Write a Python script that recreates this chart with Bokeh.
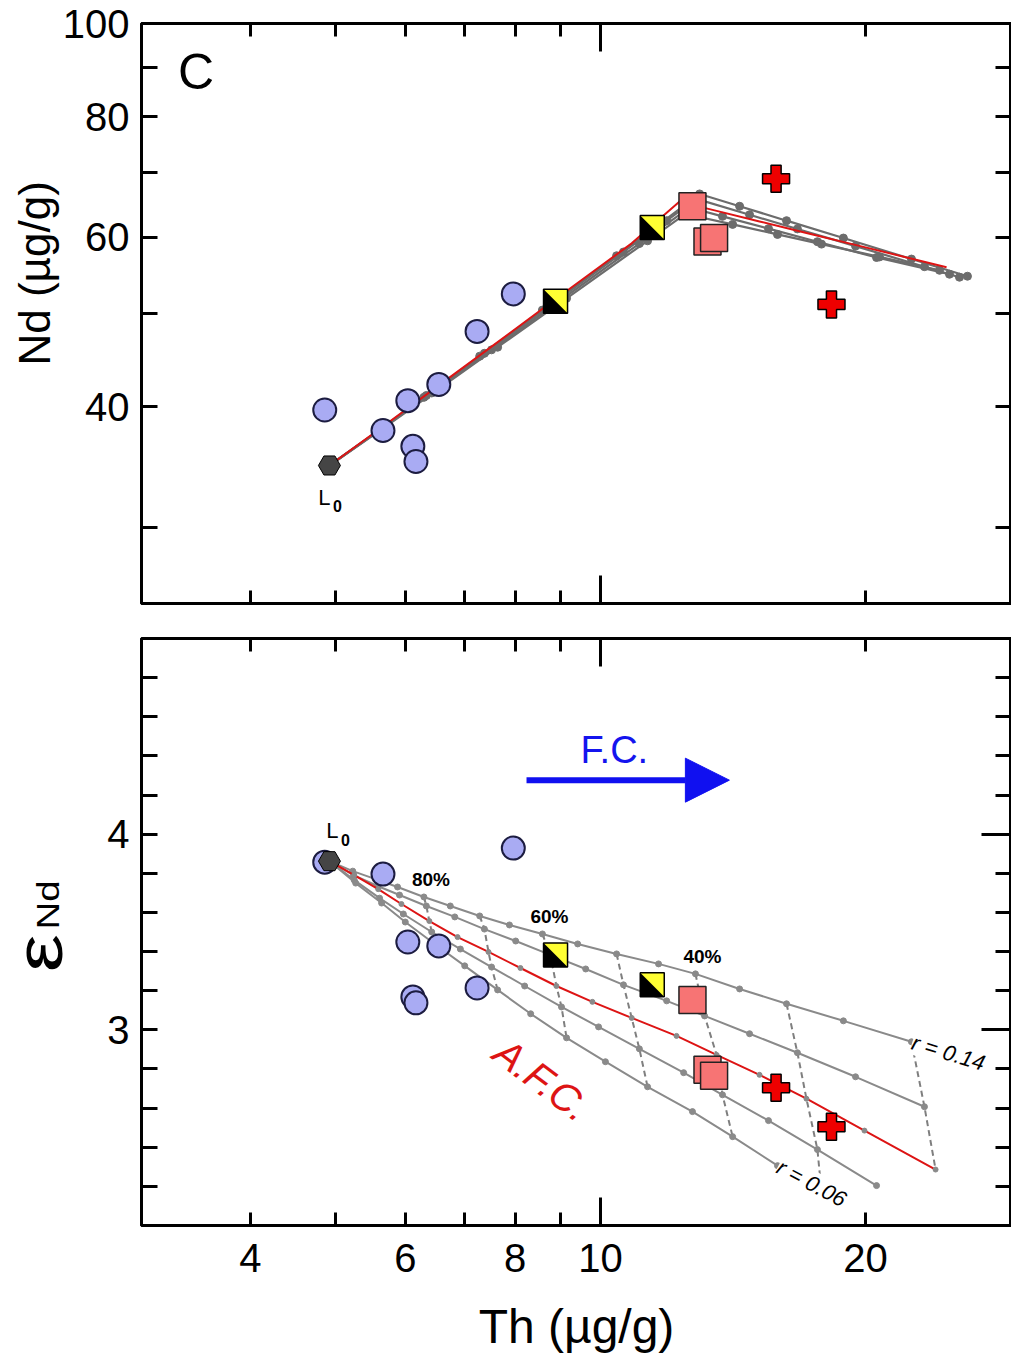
import math
from bokeh.plotting import figure
from bokeh.models import (LogAxis, LinearAxis, FixedTicker, Label, Arrow, NormalHead,
                          Range1d, CustomJSTickFormatter, NumeralTickFormatter, Title, Div)
from bokeh.layouts import column, row
from bokeh.embed import file_html
from bokeh.resources import INLINE

FONT = "Liberation Sans"

# ---------------- data ----------------
# samples (shared Th for both panels)
blue_th = [4.86, 5.66, 6.04, 6.12, 6.17, 6.55, 7.24, 7.96]
blue_nd = [39.7, 37.8, 40.6, 36.4, 35.1, 42.2, 47.9, 52.4]
blue_eps = [3.857, 3.796, 3.449, 3.168, 3.138, 3.429, 3.214, 3.929]

yellow_th = [8.89, 11.45]
yellow_nd = [51.5, 61.4]
yellow_eps = [3.383, 3.230]

pink_th = [12.72, 13.23, 13.46]
pink_nd = [64.6, 59.4, 59.9]
pink_eps = [3.153, 2.796, 2.765]

cross_th = [15.83, 18.30]
cross_nd = [69.0, 51.1]
cross_eps = [2.704, 2.505]

L0_th = [4.92]
L0_nd = [34.77]
L0_eps = [3.862]

# top panel model curves (Th, Nd)
tg1_th = [4.92, 5.55, 6.30, 7.29, 8.59, 10.43, 11.64, 12.96, 14.39, 16.27, 18.88, 22.56, 26.12]
tg1_nd = [34.77, 37.62, 40.92, 45.15, 50.41, 57.40, 61.79, 66.54, 64.61, 62.42, 59.88, 56.95, 54.66]
tg2_th = [4.92, 5.58, 6.34, 7.38, 8.77, 10.62, 11.89, 12.85, 14.77, 16.74, 19.49, 23.34, 25.58]
tg2_nd = [34.77, 37.73, 41.10, 45.46, 50.99, 57.92, 62.42, 65.76, 63.31, 61.20, 58.74, 55.92, 54.53]
tg3_th = [4.92, 5.61, 6.43, 7.52, 9.03, 11.07, 12.62, 13.76, 15.52, 17.64, 20.59, 24.92]
tg3_nd = [34.77, 37.82, 41.35, 45.84, 51.70, 59.10, 64.41, 63.07, 61.24, 59.36, 57.16, 54.92]
tg4_th = [4.92, 5.64, 6.48, 7.64, 9.15, 11.31, 12.49, 14.13, 15.89, 17.83, 20.75, 24.28]
tg4_nd = [34.77, 37.91, 41.47, 46.13, 51.85, 59.49, 63.43, 61.87, 60.40, 59.02, 57.24, 55.44]
tr_th = [4.92, 5.59, 6.39, 7.46, 8.91, 10.85, 12.29, 13.55, 15.16, 17.14, 19.95, 24.73]
tr_nd = [34.77, 37.85, 41.41, 45.95, 51.82, 59.13, 65.30, 63.90, 62.30, 60.60, 58.60, 55.84]

# bottom panel model curves (Th, eNd), F = 100 %, 95 %, 90 % ... in 5 % steps
a_th = [4.92, 5.23, 5.55, 5.88, 6.30, 6.75, 7.29, 7.88, 8.59, 9.42, 10.43, 11.64, 12.82, 14.39, 16.27, 18.88, 22.56]
a_eps = [3.862, 3.811, 3.770, 3.730, 3.679, 3.633, 3.582, 3.536, 3.490, 3.439, 3.388, 3.337, 3.286, 3.209, 3.133, 3.046, 2.939]
b_th = [4.92, 5.24, 5.58, 5.91, 6.34, 6.83, 7.38, 8.01, 8.77, 9.62, 10.62, 11.89, 13.13, 14.77, 16.74, 19.49, 23.34]
b_eps = [3.862, 3.791, 3.735, 3.689, 3.633, 3.577, 3.515, 3.454, 3.383, 3.311, 3.230, 3.148, 3.071, 2.980, 2.883, 2.760, 2.607]
r_th = [4.92, 5.25, 5.59, 5.94, 6.39, 6.88, 7.46, 8.11, 8.91, 9.79, 10.85, 12.20, 13.55, 15.16, 17.14, 19.95, 24.03]
r_eps = [3.862, 3.791, 3.719, 3.643, 3.556, 3.474, 3.398, 3.316, 3.224, 3.143, 3.061, 2.969, 2.872, 2.770, 2.648, 2.485, 2.286]
c_th = [4.92, 5.25, 5.61, 5.97, 6.43, 6.93, 7.52, 8.20, 9.03, 9.95, 11.07, 12.43, 13.76, 15.52, 17.64, 20.59]
c_eps = [3.862, 3.765, 3.673, 3.592, 3.500, 3.413, 3.321, 3.224, 3.117, 3.015, 2.903, 2.781, 2.668, 2.536, 2.388, 2.204]
d_th = [4.92, 5.27, 5.64, 6.00, 6.48, 7.01, 7.64, 8.33, 9.15, 10.13, 11.31, 12.72, 14.13, 15.89, 17.83]
d_eps = [3.862, 3.750, 3.648, 3.551, 3.439, 3.327, 3.204, 3.082, 2.959, 2.837, 2.709, 2.582, 2.454, 2.306, 2.168]

tie_idx = [4, 6, 8, 10, 12, 14, 16]          # 80 %, 70 %, ... 20 %
pct_idx = [4, 8, 12]
pct_labels = ["80%", "60%", "40%"]

x_ticks_major = [4, 6, 8, 10, 20]
x_ticks_minor = [5, 7, 9]
nd_ticks_major = [40, 60, 80, 100]
nd_ticks_minor = [30, 50, 70, 90]
eps_ticks_major = [3, 4]
eps_ticks_minor = [2.2, 2.4, 2.6, 2.8, 3.2, 3.4, 3.6, 3.8, 4.2, 4.4, 4.6, 4.8]

# ---------------- layout constants ----------------
X_START, X_END = 3.009, 29.31
FRAME_W = 870
TOP_H = 580
BOT_H = 587
ND_RANGE = (25, 100)
EPS_RANGE = (2, 5)
LEFT = 141
EPS_DIV_W = 80

GRAY_T = "#6c6c6c"
GRAY_B = "#8a8a8a"
RED = "#dd1414"
BLUE_FILL = "#a9abf3"
BLUE_LINE = "#1c1c40"
PINK = "#f77474"


def make_fig(y_type, y_range, frame_h, b_left, b_top, b_bottom):
    p = figure(x_axis_type="log", y_axis_type=y_type,
               x_axis_location=None, y_axis_location=None,
               x_range=Range1d(X_START, X_END), y_range=Range1d(*y_range),
               frame_width=FRAME_W, frame_height=frame_h,
               output_backend="svg", toolbar_location=None,
               min_border_left=b_left, min_border_right=0,
               min_border_top=b_top, min_border_bottom=b_bottom)
    p.xgrid.visible = False
    p.ygrid.visible = False
    p.outline_line_color = "black"
    p.outline_line_width = 3
    p.outline_line_alpha = 1.0
    return p


def style_ticks(ax, major_len, minor_len):
    ax.major_tick_in = major_len
    ax.major_tick_out = 0
    ax.minor_tick_in = minor_len
    ax.minor_tick_out = 0
    ax.major_tick_line_width = 3
    ax.minor_tick_line_width = 3
    ax.major_tick_line_color = "black"
    ax.minor_tick_line_color = "black"
    ax.axis_line_width = 3
    ax.axis_line_color = "black"
    ax.major_label_text_color = "black"
    ax.axis_label_text_color = "black"


def tick_axis(kind, major, minor, major_len, minor_len):
    cls = LogAxis if kind == "log" else LinearAxis
    ax = cls(ticker=FixedTicker(ticks=major, minor_ticks=minor))
    style_ticks(ax, major_len, minor_len)
    ax.formatter = CustomJSTickFormatter(code="return ''")
    ax.major_label_text_font_size = "0px"
    ax.major_label_standoff = 0
    return ax


def x_tick_only():
    return tick_axis("log", [10], x_ticks_major[:3] + x_ticks_minor + [20], 28, 13)


def text_label(**kw):
    kw.setdefault("text_font", FONT)
    kw.setdefault("text_color", "black")
    return Label(**kw)


# ================= top panel =================
p1 = make_fig("log", ND_RANGE, TOP_H, LEFT, 23, 17)

ax_l = LogAxis(ticker=FixedTicker(ticks=nd_ticks_major, minor_ticks=nd_ticks_minor))
style_ticks(ax_l, 16, 16)
ax_l.formatter = NumeralTickFormatter(format="0")
ax_l.major_label_text_font = FONT
ax_l.major_label_text_font_size = "40px"
ax_l.major_label_standoff = 12
p1.add_layout(ax_l, "left")
p1.add_layout(Title(text="Nd (µg/g)", align="left", offset=238, standoff=2,
                    text_font=FONT, text_font_size="44px", text_font_style="normal",
                    text_color="black"), "left")
p1.add_layout(tick_axis("log", nd_ticks_minor + nd_ticks_major[:3], [], 16, 16), "right")
p1.add_layout(x_tick_only(), "above")
p1.add_layout(x_tick_only(), "below")

for th, nd in [(tg1_th, tg1_nd), (tg2_th, tg2_nd), (tg3_th, tg3_nd), (tg4_th, tg4_nd)]:
    p1.line(th, nd, line_color=GRAY_T, line_width=2.2)
    p1.scatter(th[1:], nd[1:], size=8, color=GRAY_T)
p1.line(tr_th, tr_nd, line_color=RED, line_width=2)

# ================= bottom panel =================
p2 = make_fig("linear", EPS_RANGE, BOT_H, LEFT - EPS_DIV_W, 18, 10)

ax_l2 = LinearAxis(ticker=FixedTicker(ticks=eps_ticks_major, minor_ticks=eps_ticks_minor))
style_ticks(ax_l2, 16, 16)
ax_l2.formatter = NumeralTickFormatter(format="0")
ax_l2.major_label_text_font = FONT
ax_l2.major_label_text_font_size = "40px"
ax_l2.major_label_standoff = 12
p2.add_layout(ax_l2, "left")
p2.add_layout(tick_axis("linear", eps_ticks_major, eps_ticks_minor, 30, 16), "right")
p2.add_layout(x_tick_only(), "above")
p2.add_layout(x_tick_only(), "below")

ax_b = LogAxis(ticker=FixedTicker(ticks=x_ticks_major, minor_ticks=[]))
ax_b.formatter = NumeralTickFormatter(format="0")
ax_b.major_tick_line_color = None
ax_b.minor_tick_line_color = None
ax_b.axis_line_color = None
ax_b.major_label_text_color = "black"
ax_b.major_label_text_font = FONT
ax_b.major_label_text_font_size = "40px"
ax_b.major_label_standoff = 12
ax_b.axis_label = "Th (µg/g)"
ax_b.axis_label_text_color = "black"
ax_b.axis_label_text_font = FONT
ax_b.axis_label_text_font_size = "48px"
ax_b.axis_label_text_font_style = "normal"
ax_b.axis_label_standoff = 25
p2.add_layout(ax_b, "below")

curves_bot = [(a_th, a_eps), (b_th, b_eps), (r_th, r_eps), (c_th, c_eps), (d_th, d_eps)]
tie_xs = [[th[i] for th, e in curves_bot if len(th) > i] for i in tie_idx]
tie_ys = [[e[i] for th, e in curves_bot if len(th) > i] for i in tie_idx]
p2.multi_line(tie_xs, tie_ys, line_color="#7f7f7f", line_width=2, line_dash="6 4")

for th, e in [(a_th, a_eps), (b_th, b_eps), (c_th, c_eps), (d_th, d_eps)]:
    p2.line(th, e, line_color=GRAY_B, line_width=2)
    p2.scatter(th[1:], e[1:], size=6, color=GRAY_B)
p2.line(r_th, r_eps, line_color=RED, line_width=2)
p2.scatter(r_th[1:], r_eps[1:], size=5, color=GRAY_B)

# ---------- sample symbols (both panels) ----------
px_dec_x = FRAME_W / math.log10(X_END / X_START)
px_dec_nd = TOP_H / math.log10(ND_RANGE[1] / ND_RANGE[0])
px_eps = BOT_H / (EPS_RANGE[1] - EPS_RANGE[0])
HALF = 12
kx = 10 ** (HALF / px_dec_x)
kn = 10 ** (HALF / px_dec_nd)
de = HALF / px_eps

for p, blue_y, yel_y, pink_y, cross_y, l0_y in [
        (p1, blue_nd, yellow_nd, pink_nd, cross_nd, L0_nd),
        (p2, blue_eps, yellow_eps, pink_eps, cross_eps, L0_eps)]:
    p.scatter(blue_th, blue_y, marker="circle", size=23, fill_color=BLUE_FILL,
              line_color=BLUE_LINE, line_width=2)
    p.scatter(L0_th, l0_y, marker="hex", size=22, fill_color="#454545",
              line_color="black", line_width=1)
    p.scatter(yellow_th, yel_y, marker="square", size=24, fill_color="#ffff33",
              line_color="black", line_width=1.5)
    tri_x = [[x / kx, x / kx, x * kx] for x in yellow_th]
    if p is p1:
        tri_y = [[y * kn, y / kn, y / kn] for y in yel_y]
    else:
        tri_y = [[y + de, y - de, y - de] for y in yel_y]
    p.patches(tri_x, tri_y, fill_color="black", line_color=None)
    p.scatter(pink_th, pink_y, marker="square", size=27, fill_color=PINK,
              line_color="#222222", line_width=1.5)
    p.scatter(cross_th, cross_y, marker="plus", size=27, fill_color="#ee0000",
              line_color="black", line_width=1.5)

# ---------- annotations ----------
p1.add_layout(text_label(x=3.47, y=89.0, text="C", text_font_size="50px",
                         text_align="center", text_baseline="middle"))
p1.add_layout(text_label(x=L0_th[0], y=L0_nd[0], text="L", x_offset=-5, y_offset=-32,
                         text_font_size="22px", text_align="center", text_baseline="middle"))
p1.add_layout(text_label(x=L0_th[0], y=L0_nd[0], text="0", x_offset=8, y_offset=-41,
                         text_font_size="16px", text_font_style="bold",
                         text_align="center", text_baseline="middle"))

p2.add_layout(text_label(x=L0_th[0], y=L0_eps[0], text="L", x_offset=3, y_offset=31,
                         text_font_size="22px", text_align="center", text_baseline="middle"))
p2.add_layout(text_label(x=L0_th[0], y=L0_eps[0], text="0", x_offset=16, y_offset=21,
                         text_font_size="16px", text_font_style="bold",
                         text_align="center", text_baseline="middle"))

for i, t in zip(pct_idx, pct_labels):
    p2.add_layout(text_label(x=a_th[i], y=a_eps[i], text=t, x_offset=7, y_offset=7,
                             text_font_size="19px", text_font_style="bold",
                             text_align="center", text_baseline="bottom"))

p2.add_layout(text_label(x=a_th[-1], y=a_eps[-1], text="r = 0.14", x_offset=1, y_offset=0,
                         angle=-17, angle_units="deg", text_font_size="22px",
                         text_font_style="italic", text_align="left", text_baseline="middle",
                         background_fill_color="white"))
p2.add_layout(text_label(x=d_th[-2], y=d_eps[-2], text="r = 0.06", x_offset=1, y_offset=0,
                         angle=-28, angle_units="deg", text_font_size="22px",
                         text_font_style="italic", text_align="left", text_baseline="middle",
                         background_fill_color="white"))

p2.add_layout(text_label(x=8.59, y=2.745, text="A.F.C.", angle=-37, angle_units="deg",
                         text_font_size="40px", text_font_style="italic",
                         text_color=RED, text_align="center", text_baseline="middle"))
p2.add_layout(text_label(x=10.37, y=4.43, text="F.C.", text_font_size="38px",
                         text_color="#1414ee", text_align="center", text_baseline="middle"))
p2.add_layout(Arrow(x_start=8.24, y_start=4.276, x_end=14.01, y_end=4.276,
                    line_color="#1010f0", line_width=6,
                    end=NormalHead(size=44, fill_color="#1010f0", line_color="#1010f0")))

# eNd axis label: epsilon with subscript Nd, rotated (HTML text in a narrow column)
span = ("position:absolute;left:{l}px;top:{t}px;"
        "transform:translate(-50%,-50%) rotate(-90deg) scale({sx},1);"
        "font-family:'Liberation Sans';font-size:{s}px;line-height:{lh};"
        "white-space:nowrap;color:black;")
eps_html = ('<div style="position:relative;width:%dpx;height:600px;">' % EPS_DIV_W
            + '<span style="%s">ε</span>' % span.format(l=40, t=333, s=66, sx=1.3, lh=1.15)
            + '<span style="%s">Nd</span>' % span.format(l=48, t=285, s=32, sx=1.2, lh=1.15)
            + '</div>')
eps_div = Div(text=eps_html, width=EPS_DIV_W, height=600, margin=0)

layout = column(p1, row(eps_div, p2))
open("out.html", "w").write(file_html(layout, INLINE))
